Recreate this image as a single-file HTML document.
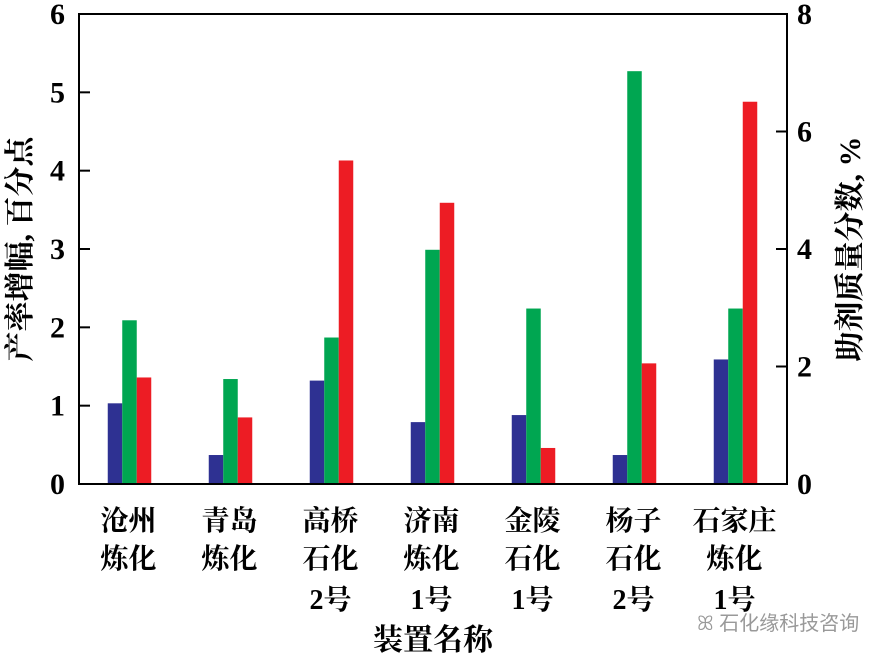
<!DOCTYPE html>
<html><head><meta charset="utf-8"><style>
html,body{margin:0;padding:0;background:#fff;}
svg text{font-family:"Liberation Serif","Noto Serif CJK SC",serif;fill:#000;}
</style></head><body>
<svg id="chart" width="869" height="659" viewBox="0 0 869 659" xmlns="http://www.w3.org/2000/svg">
<g id="bars"></g>
<rect x="79" y="14" width="708" height="470" fill="none" stroke="#000" stroke-width="2"/>
<g id="ticks"></g>
<text transform="translate(30,249) rotate(-90)" text-anchor="middle" font-size="30" font-weight="bold">产率增幅, 百分点</text>
<text transform="translate(860,249) rotate(-90)" text-anchor="middle" font-size="30" font-weight="bold">助剂质量分数, %</text>
<text x="433" y="650" text-anchor="middle" font-size="30" font-weight="bold">装置名称</text>
<text x="697" y="630" font-size="20" style="fill:#999;font-family:'Liberation Sans','Noto Sans CJK SC',sans-serif">ꕤ 石化缘科技咨询</text>
</svg>
<script>
const categories=[["沧州","炼化"],["青岛","炼化"],["高桥","石化","2号"],["济南","炼化","1号"],["金陵","石化","1号"],["杨子","石化","2号"],["石家庄","炼化","1号"]];
const blueValues=[1.03,0.37,1.32,0.79,0.88,0.37,1.59];
const greenValues=[2.09,1.34,1.87,2.99,2.24,5.27,2.24];
const redValues=[1.36,0.85,4.13,3.59,0.46,1.54,4.88];
const leftTicks=[0,1,2,3,4,5,6];
const rightTicks=[0,2,4,6,8];
const NS="http://www.w3.org/2000/svg";
const x0=79,x1=787,yTop=14,yBot=484;
const yL=v=>yBot-(v/6)*(yBot-yTop);
const yR=v=>yBot-(v/8)*(yBot-yTop);
const groupX=i=>129.5+i*101;
const bw=14.5;
const bars=document.getElementById('bars');
const series=[[blueValues,'#2e3192',-1,'blue'],[greenValues,'#00a651',0,'green'],[redValues,'#ed1c24',1,'red']];
series.forEach(([vals,col,off,nm])=>{
 vals.forEach((v,i)=>{
  const r=document.createElementNS(NS,'rect');
  
  
  r.setAttribute('x',groupX(i)+off*bw-bw/2);
  r.setAttribute('y',yL(v));
  r.setAttribute('width',bw);
  r.setAttribute('height',yBot-yL(v));
  r.setAttribute('fill',col);
  bars.appendChild(r);
 });
});
const tg=document.getElementById('ticks');
function line(a,b,c,d){const l=document.createElementNS(NS,'line');l.setAttribute('x1',a);l.setAttribute('y1',b);l.setAttribute('x2',c);l.setAttribute('y2',d);l.setAttribute('stroke','#000');l.setAttribute('stroke-width','2');tg.appendChild(l);return l;}
function txt(x,y,s,anchor,size){const t=document.createElementNS(NS,'text');t.setAttribute('x',x);t.setAttribute('y',y);t.setAttribute('text-anchor',anchor);t.setAttribute('font-size',size);t.setAttribute('font-weight','bold');t.textContent=s;tg.appendChild(t);return t;}
leftTicks.forEach(v=>{
 const l=line(x0,yL(v),x0+11,yL(v));
 
 
 const t=txt(x0-14,yL(v)+10,String(v),'end',30);
 
 
});
rightTicks.forEach(v=>{
 const l=line(x1-11,yR(v),x1,yR(v));
 
 
 const t=txt(x1+10,yR(v)+10,String(v),'start',30);
 
 
});
const rowsY=[530,568,609];
categories.forEach((c,i)=>{
 c.forEach((s,j)=>{
  const t=txt(groupX(i)-1,rowsY[j],s,'middle',28);
  
  
 });
});
</script>
</body></html>
